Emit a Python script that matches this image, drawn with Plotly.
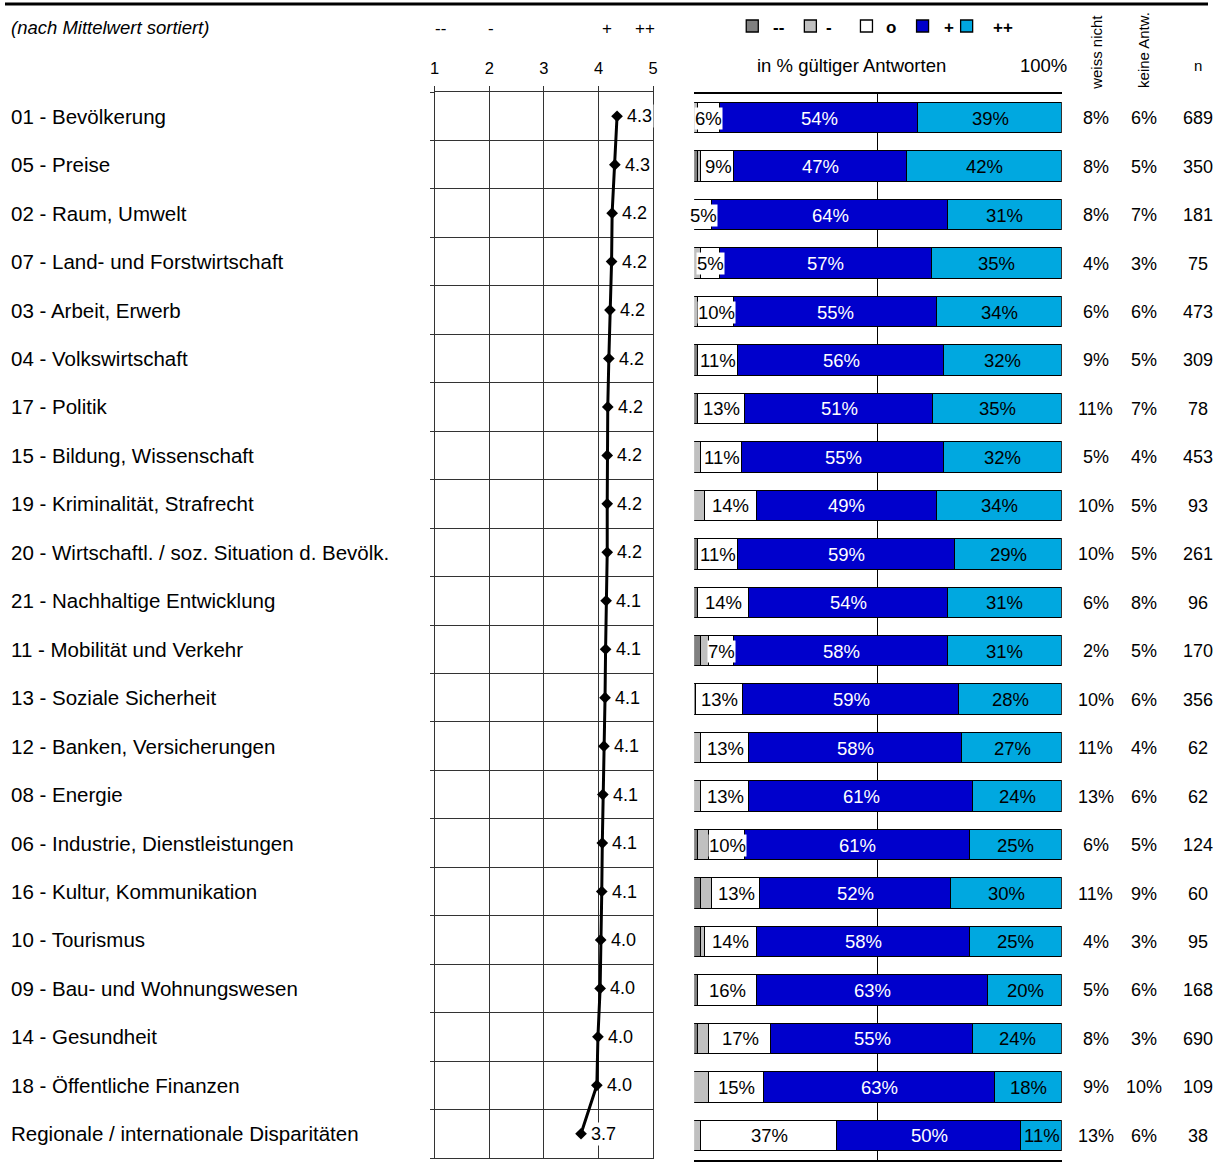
import plotly.graph_objects as go

categories = [
    "01 - Bevölkerung", "05 - Preise", "02 - Raum, Umwelt", "07 - Land- und Forstwirtschaft",
    "03 - Arbeit, Erwerb", "04 - Volkswirtschaft", "17 - Politik", "15 - Bildung, Wissenschaft",
    "19 - Kriminalität, Strafrecht", "20 - Wirtschaftl. / soz. Situation d. Bevölk.",
    "21 - Nachhaltige Entwicklung", "11 - Mobilität und Verkehr", "13 - Soziale Sicherheit",
    "12 - Banken, Versicherungen", "08 - Energie", "06 - Industrie, Dienstleistungen",
    "16 - Kultur, Kommunikation", "10 - Tourismus", "09 - Bau- und Wohnungswesen",
    "14 - Gesundheit", "18 - Öffentliche Finanzen", "Regionale / internationale Disparitäten",
]
means = [4.34, 4.30, 4.25, 4.24, 4.21, 4.19, 4.17, 4.16, 4.16, 4.16, 4.14,
         4.13, 4.12, 4.10, 4.08, 4.07, 4.06, 4.04, 4.03, 3.99, 3.97, 3.68]
very_neg = [0, 1, 0, 0, 0, 1, 1, 0, 0, 1, 1, 2, 0.5, 0, 0, 1, 2, 2, 1, 1, 0, 0]
neg = [1, 1, 0, 2, 1, 0, 0, 2, 3, 0, 0, 2, 0, 2, 2, 3, 3, 1, 0, 3, 4, 2]
neutral = [6, 9, 5, 5, 10, 11, 13, 11, 14, 11, 14, 7, 13, 13, 13, 10, 13, 14, 16, 17, 15, 37]
pos = [54, 47, 64, 57, 55, 56, 51, 55, 49, 59, 54, 58, 59, 58, 61, 61, 52, 58, 63, 55, 63, 50]
very_pos = [39, 42, 31, 35, 34, 32, 35, 32, 34, 29, 31, 31, 28, 27, 24, 25, 30, 25, 20, 24, 18, 11]
weiss_nicht = [8, 8, 8, 4, 6, 9, 11, 5, 10, 10, 6, 2, 10, 11, 13, 6, 11, 4, 5, 8, 9, 13]
keine_antw = [6, 5, 7, 3, 6, 5, 7, 4, 5, 5, 8, 5, 6, 4, 6, 5, 9, 3, 6, 3, 10, 6]
n_vals = [689, 350, 181, 75, 473, 309, 78, 453, 93, 261, 96, 170, 356, 62, 62, 124,
          60, 95, 168, 690, 109, 38]
scale_ticks = [1, 2, 3, 4, 5]
scale_symbols = ["--", "-", "+", "++"]
legend_labels = ["--", "-", "o", "+", "++"]

W, H = 1213, 1171
FONT = "Liberation Sans, Arial, sans-serif"
C_DD, C_D, C_O, C_P, C_PP = "#808080", "#C0C0C0", "#FFFFFF", "#0000CC", "#00A8E0"


def px(x):
    # horizontal pixel -> paper fraction (small calibration for the viewer's width)
    return (606.5 + (x - 606.5) / 0.99) / W


def py(y):
    return 1 - y / H


rows = list(range(len(categories)))
y_dom = [py(1158), py(92)]
y_dom2 = [py(1160), py(94)]

fig = go.Figure()

# normalised stacked bars
series = [very_neg, neg, neutral, pos, very_pos]
colors = [C_DD, C_D, C_O, C_P, C_PP]
totals = [sum(s[i] for s in series) for i in rows]
norm = [[s[i] * 100.0 / totals[i] for i in rows] for s in series]
bases = []
acc = [0.0] * len(rows)
for k, s in enumerate(norm):
    bases.append(acc[:])
    fig.add_trace(go.Bar(
        x=s, y=rows, base=acc[:], orientation="h", width=0.63,
        marker=dict(color=colors[k], line=dict(color="#000000", width=1.4)),
        xaxis="x2", yaxis="y2", showlegend=False, hoverinfo="skip",
    ))
    acc = [acc[i] + s[i] for i in rows]

# mean line
fig.add_trace(go.Scatter(
    x=means, y=rows, mode="lines+markers",
    line=dict(color="#000000", width=3),
    marker=dict(symbol="diamond", size=9, color="#000000"),
    xaxis="x", yaxis="y", showlegend=False, hoverinfo="skip",
))

ann = []
for i in rows:
    ann.append(dict(x=px(10), y=i, xref="paper", yref="y", text=categories[i],
                    xanchor="left", yanchor="middle", showarrow=False,
                    font=dict(size=20.5, color="#000")))
    ann.append(dict(x=means[i], y=i, xref="x", yref="y", text=f"{means[i]:.1f}",
                    xanchor="left", yanchor="middle", xshift=8, showarrow=False,
                    bgcolor="#FFFFFF", borderpad=1, font=dict(size=18, color="#000")))
    for xp, v in [(1095, f"{weiss_nicht[i]}%"), (1143, f"{keine_antw[i]}%"), (1197, f"{n_vals[i]}")]:
        ann.append(dict(x=px(xp), y=i, xref="paper", yref="y2", text=v,
                        xanchor="center", yanchor="middle", showarrow=False,
                        font=dict(size=18, color="#000")))
    for k, col, bg in [(2, "#000", "#FFFFFF"), (3, "#FFFFFF", None), (4, "#000", None)]:
        c = bases[k][i] + norm[k][i] / 2
        d = dict(x=c, y=i, xref="x2", yref="y2", text=f"{series[k][i]}%",
                 xanchor="center", yanchor="middle", showarrow=False,
                 font=dict(size=18.5, color=col), borderpad=0)
        if bg:
            d["bgcolor"] = bg
        ann.append(d)

# header texts
ann.append(dict(x=px(10), y=py(27), xref="paper", yref="paper",
                text="<i>(nach Mittelwert sortiert)</i>", xanchor="left", yanchor="middle",
                showarrow=False, font=dict(size=18.5, color="#000")))
for xp, t in zip([441, 491, 607, 645], scale_symbols):
    ann.append(dict(x=px(xp), y=py(28), xref="paper", yref="paper", text=t,
                    xanchor="center", yanchor="middle", showarrow=False,
                    font=dict(size=17, color="#000")))
ann.append(dict(x=px(851), y=py(66), xref="paper", yref="paper", text="in % gültiger Antworten",
                xanchor="center", yanchor="middle", showarrow=False, font=dict(size=18.5, color="#000")))
ann.append(dict(x=px(1043), y=py(66), xref="paper", yref="paper", text="100%",
                xanchor="center", yanchor="middle", showarrow=False, font=dict(size=18.5, color="#000")))
ann.append(dict(x=px(1095), y=py(52), xref="paper", yref="paper", text="weiss nicht", textangle=-90,
                xanchor="center", yanchor="middle", showarrow=False, font=dict(size=15, color="#000")))
ann.append(dict(x=px(1143), y=py(50), xref="paper", yref="paper", text="keine Antw.", textangle=-90,
                xanchor="center", yanchor="middle", showarrow=False, font=dict(size=15, color="#000")))
ann.append(dict(x=px(1197), y=py(66), xref="paper", yref="paper", text="n",
                xanchor="center", yanchor="middle", showarrow=False, font=dict(size=15, color="#000")))

# custom legend
shapes = [dict(type="line", xref="paper", yref="paper", x0=0, x1=1, y0=py(4), y1=py(4),
               line=dict(color="#000", width=3))]
sq_x = [746, 804, 860, 916, 960]
lab_x = [778, 829, 890, 948, 1002]
for sx, lx, col, lab in zip(sq_x, lab_x, colors, legend_labels):
    shapes.append(dict(type="rect", xref="paper", yref="paper", x0=px(sx), x1=px(sx + 12),
                       y0=py(32), y1=py(20), fillcolor=col, line=dict(color="#000", width=1.3)))
    ann.append(dict(x=px(lx), y=py(27), xref="paper", yref="paper", text=f"<b>{lab}</b>",
                    xanchor="center", yanchor="middle", showarrow=False,
                    font=dict(size=17, color="#000")))

grid_color = "#333333"
fig.update_layout(
    width=W, height=H, margin=dict(l=0, r=0, t=0, b=0),
    paper_bgcolor="#FFFFFF", plot_bgcolor="rgba(0,0,0,0)",
    font=dict(family=FONT, color="#000"),
    barmode="stack", bargap=0,
    showlegend=False,
    xaxis=dict(domain=[px(435), px(653)], range=[1, 5], anchor="y", side="top",
               tickvals=scale_ticks, ticktext=[str(t) for t in scale_ticks],
               showgrid=True, gridcolor=grid_color, gridwidth=1,
               showline=True, mirror=True, linecolor=grid_color, linewidth=1,
               ticks="outside", ticklen=5, tickcolor=grid_color,
               tickfont=dict(size=16.5, color="#000"), ticklabelstandoff=5, zeroline=False),
    yaxis=dict(domain=y_dom, range=[21.5, -0.5], anchor="x",
               tickvals=[r - 0.5 for r in range(len(categories) + 1)],
               showgrid=True, gridcolor=grid_color, gridwidth=1,
               showline=True, mirror=True, linecolor=grid_color, linewidth=1,
               ticks="outside", ticklen=4, tickcolor=grid_color,
               showticklabels=False, zeroline=False),
    xaxis2=dict(domain=[px(694), px(1061)], range=[0, 100], anchor="y2",
                tickvals=[50], showgrid=True, gridcolor="#000", gridwidth=1.3,
                showline=True, mirror=True, linecolor="#000", linewidth=1.5,
                showticklabels=False, ticks="", zeroline=False),
    yaxis2=dict(domain=y_dom2, range=[21.5, -0.5], anchor="x2",
                showgrid=False, showline=False, showticklabels=False, ticks="", zeroline=False),
    annotations=ann, shapes=shapes,
)

fig.write_html("out.html", config={"displayModeBar": False},
               post_script="document.body.style.margin='0';")
